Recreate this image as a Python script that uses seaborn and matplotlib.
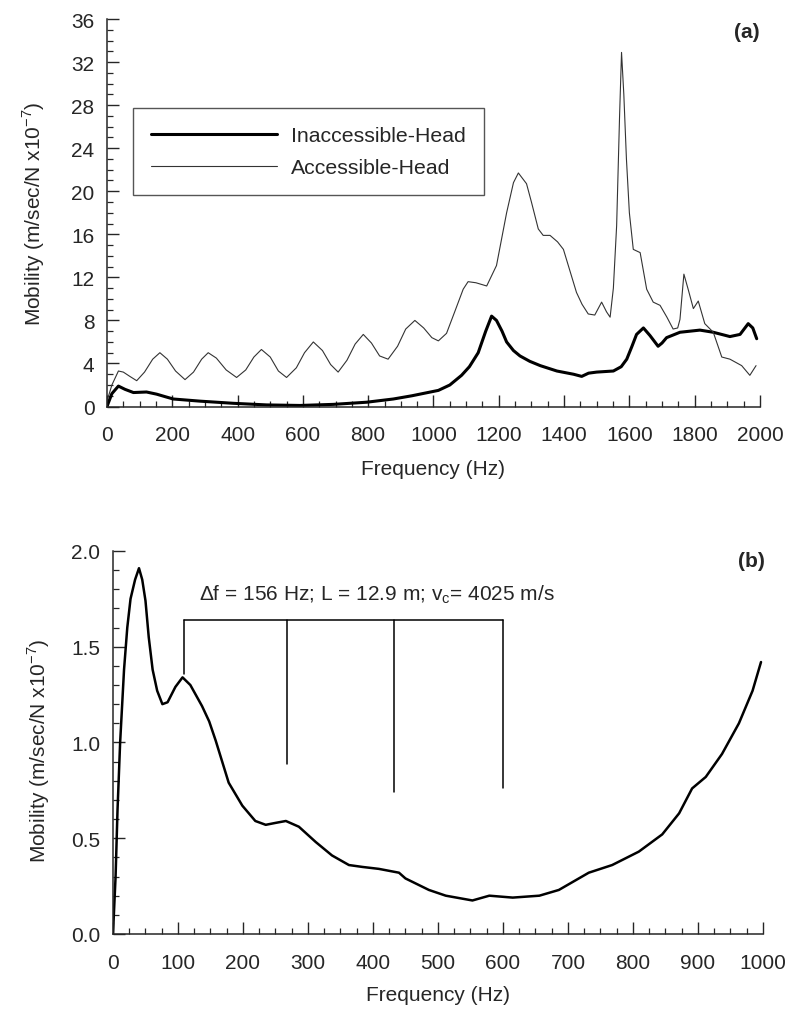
import numpy as np
import pandas as pd
import matplotlib
matplotlib.use("Agg")
import matplotlib.pyplot as plt
from matplotlib.ticker import MultipleLocator, FormatStrFormatter
import seaborn as sns

# ---------------- data ----------------
acc_freq = [0, 15, 35, 50, 70, 91, 115, 140, 162, 185, 210, 239, 265, 290, 310, 335, 365, 397,
            425, 450, 473, 500, 525, 550, 580, 605, 632, 660, 685, 708, 735, 760, 785, 810, 835,
            861, 890, 915, 943, 970, 995, 1015, 1040, 1065, 1091, 1106, 1130, 1163, 1193, 1224,
            1245, 1260, 1285, 1300, 1321, 1336, 1357, 1380, 1398, 1413, 1438, 1455, 1474, 1494,
            1515, 1530, 1541, 1551, 1561, 1570, 1576, 1583, 1591, 1600, 1612, 1633, 1653, 1673,
            1694, 1715, 1734, 1748, 1755, 1767, 1780, 1796, 1811, 1831, 1857, 1883, 1908, 1944,
            1969, 1988]
acc_mob = [0.5, 2.0, 3.3, 3.2, 2.8, 2.4, 3.2, 4.4, 5.0, 4.4, 3.3, 2.5, 3.2, 4.4, 5.0, 4.5, 3.4, 2.7,
           3.4, 4.6, 5.3, 4.6, 3.3, 2.7, 3.6, 5.0, 6.0, 5.2, 3.9, 3.2, 4.3, 5.8, 6.7, 5.9, 4.7,
           4.4, 5.6, 7.2, 8.0, 7.3, 6.4, 6.1, 6.8, 8.8, 10.9, 11.6, 11.5, 11.2, 13.1, 18.0,
           20.8, 21.7, 20.7, 19.0, 16.5, 15.9, 15.9, 15.3, 14.6, 13.1, 10.6, 9.5, 8.6, 8.5,
           9.7, 8.8, 8.3, 11.0, 16.8, 27.0, 32.9, 29.0, 23.0, 18.0, 14.6, 14.3, 10.9, 9.7,
           9.4, 8.3, 7.2, 7.3, 8.1, 12.3, 10.9, 9.1, 9.8, 7.7, 6.9, 4.6, 4.4, 3.8,
           2.9, 3.8]

inacc_freq = [0, 15, 35, 55, 81, 121, 152, 180, 203, 285, 387, 489, 591, 693, 795, 877, 934,
              1015, 1050, 1086, 1110, 1137, 1160, 1178, 1193, 1210, 1224, 1245, 1265, 1295,
              1327, 1378, 1429, 1454, 1475, 1500, 1551, 1575, 1592, 1608, 1622, 1643, 1663,
              1688, 1700, 1714, 1755, 1816, 1857, 1908, 1939, 1964, 1978, 1990]
inacc_mob = [0.0, 1.2, 1.9, 1.6, 1.3, 1.35, 1.15, 0.9, 0.7, 0.5, 0.3, 0.15, 0.1, 0.2, 0.4, 0.7, 1.0,
             1.5, 2.0, 2.9, 3.7, 5.0, 7.0, 8.4, 8.0, 7.0, 6.0, 5.2, 4.7, 4.2,
             3.8, 3.3, 3.0, 2.8, 3.1, 3.2, 3.3, 3.7, 4.4, 5.6, 6.7, 7.3, 6.6,
             5.6, 5.9, 6.4, 6.9, 7.1, 6.9, 6.5, 6.7, 7.7, 7.3, 6.3]

b_freq = [0, 4, 7, 11, 17, 22, 27, 34, 40, 45, 50, 55, 61, 68, 76, 84, 96, 107, 119, 137, 148,
          158, 168, 178, 199, 219, 235, 250, 266, 286, 312, 337, 363, 384, 409, 440, 450, 486,
          512, 553, 579, 615, 656, 686, 732, 768, 809, 845, 871, 891, 912, 937, 963, 984, 997]
b_mob = [0.0, 0.3, 0.65, 1.0, 1.38, 1.6, 1.75, 1.85, 1.91, 1.85, 1.74, 1.55, 1.38, 1.27, 1.2, 1.21,
         1.29, 1.34, 1.30, 1.19, 1.11, 1.01, 0.90, 0.79, 0.67, 0.59, 0.57, 0.58, 0.59, 0.56,
         0.48, 0.41, 0.36, 0.35, 0.34, 0.32, 0.29, 0.23, 0.20, 0.175, 0.20, 0.19, 0.20, 0.23,
         0.32, 0.36, 0.43, 0.52, 0.63, 0.76, 0.82, 0.94, 1.10, 1.27, 1.42]

# resonance-spacing bracket in panel (b)
bracket_freq = [109, 267, 433, 600]
bracket_bottom = [1.36, 0.89, 0.74, 0.76]
bracket_top = 1.64
bracket_text = "Δf = 156 Hz; L = 12.9 m; v$_\\mathregular{c}$= 4025 m/s"
bracket_text_pos = (132, 1.745)

ylab = "Mobility (m/sec/N x10$^{\\mathregular{-7}}$)"
xlab = "Frequency (Hz)"

# ---------------- style ----------------
sns.set_style("ticks")
plt.rcParams["font.family"] = ["Liberation Sans", "DejaVu Sans"]
plt.rcParams["mathtext.fontset"] = "custom"
plt.rcParams["mathtext.rm"] = "Liberation Sans"
plt.rcParams["axes.linewidth"] = 1.1

FS = 15

fig = plt.figure(figsize=(7.89, 10.12), dpi=100)
ax1 = fig.add_axes([0.1356, 0.5973, 0.8276, 0.3829])
ax2 = fig.add_axes([0.1432, 0.0761, 0.8238, 0.3785])

df_a = pd.concat([
    pd.DataFrame({"freq": inacc_freq, "mob": inacc_mob, "series": "Inaccessible-Head"}),
    pd.DataFrame({"freq": acc_freq, "mob": acc_mob, "series": "Accessible-Head"}),
])

sns.lineplot(data=df_a[df_a.series == "Inaccessible-Head"], x="freq", y="mob", ax=ax1,
             color="black", linewidth=2.2, label="Inaccessible-Head", sort=False)
sns.lineplot(data=df_a[df_a.series == "Accessible-Head"], x="freq", y="mob", ax=ax1,
             color="#333333", linewidth=0.8, label="Accessible-Head", sort=False)

df_b = pd.DataFrame({"freq": b_freq, "mob": b_mob})
sns.lineplot(data=df_b, x="freq", y="mob", ax=ax2, color="black", linewidth=1.8, sort=False)

# bracket
ax2.plot([bracket_freq[0], bracket_freq[-1]], [bracket_top, bracket_top], color="black", lw=1.1)
for f, b in zip(bracket_freq, bracket_bottom):
    ax2.plot([f, f], [b, bracket_top], color="black", lw=1.1)
ax2.text(bracket_text_pos[0], bracket_text_pos[1], bracket_text, fontsize=15,
         ha="left", va="baseline")

# axes formatting
for ax in (ax1, ax2):
    sns.despine(ax=ax)
    ax.tick_params(axis="both", which="both", direction="in", labelsize=FS)
    ax.tick_params(which="major", length=8.6, width=1.0)
    ax.tick_params(which="minor", length=4.3, width=0.9)
    ax.tick_params(axis="y", which="major", pad=9)
    ax.tick_params(axis="x", which="major", pad=13.5)
    ax.set_xlabel(xlab, fontsize=FS, va="center")
    ax.set_ylabel(ylab, fontsize=FS, va="center")

ax1.xaxis.set_label_coords(0.5, -0.160)
ax1.yaxis.set_label_coords(-0.113, 0.50)
ax2.xaxis.set_label_coords(0.5, -0.157)
ax2.yaxis.set_label_coords(-0.115, 0.48)

ax1.set_xlim(0, 2000)
ax1.set_ylim(0, 36)
ax1.xaxis.set_major_locator(MultipleLocator(200))
ax1.xaxis.set_minor_locator(MultipleLocator(50))
ax1.yaxis.set_major_locator(MultipleLocator(4))
ax1.yaxis.set_minor_locator(MultipleLocator(1))

ax2.set_xlim(0, 1000)
ax2.set_ylim(0, 2.0)
ax2.xaxis.set_major_locator(MultipleLocator(100))
ax2.xaxis.set_minor_locator(MultipleLocator(25))
ax2.yaxis.set_major_locator(MultipleLocator(0.5))
ax2.yaxis.set_minor_locator(MultipleLocator(0.1))
ax2.yaxis.set_major_formatter(FormatStrFormatter("%.1f"))

leg = ax1.legend(loc="upper left", bbox_to_anchor=(0.040, 0.770), borderaxespad=0,
                 fontsize=15.3, frameon=True, fancybox=False, handlelength=5.9,
                 handletextpad=0.7, borderpad=0.85, labelspacing=0.6)
leg.get_frame().set_edgecolor("#555555")
leg.get_frame().set_linewidth(1.0)
leg.get_frame().set_alpha(1)

ax1.text(0.98, 0.969, "(a)", transform=ax1.transAxes, fontsize=FS, fontweight="bold",
         ha="center", va="center")
ax2.text(0.983, 0.974, "(b)", transform=ax2.transAxes, fontsize=FS, fontweight="bold",
         ha="center", va="center")

fig.savefig("out.png", dpi=100)
